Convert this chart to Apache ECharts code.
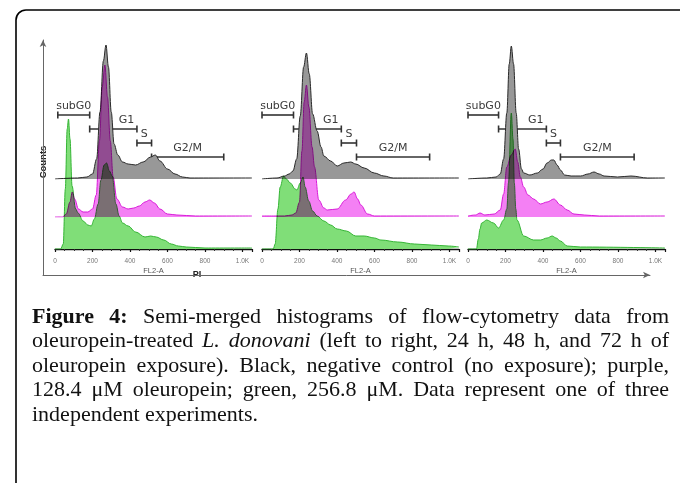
<!DOCTYPE html>
<html><head><meta charset="utf-8">
<script src="https://cdn.jsdelivr.net/npm/echarts@6/dist/echarts.min.js"></script>
<style>
html,body{margin:0;padding:0;background:#fff;}
#wrap{position:relative;width:680px;height:483px;overflow:hidden;background:#fff;isolation:isolate;}
.layer{position:absolute;left:0;top:0;width:680px;height:483px;mix-blend-mode:multiply;}
</style></head><body>
<div id="wrap"><div id="base" class="layer"></div><div id="purple" class="layer"></div><div id="green" class="layer"></div></div>
<script>
// ---------- data (FL2-A channel, relative counts) ----------
const xTicks = [0, 200, 400, 600, 800, 1000];
const timePoints = ['24 h', '48 h', '72 h'];
// black: negative control
const ctl24 = [[0,0],[120,1],[170,2],[200,5],[222,20],[240,67],[258,118],[272,134],[285,112],[300,67],[315,35],[335,24],[360,17],[390,15],[430,14],[470,17],[510,22],[535,24],[560,18],[600,10],[640,5],[680,2],[720,1],[1050,1]];
const ctl48 = [[0,0],[80,1],[120,3],[145,5],[165,8],[185,20],[204,63],[222,112],[237,126],[252,105],[270,65],[294,48],[315,32],[330,23],[366,18],[401,13],[437,16],[473,17],[500,15],[545,11],[599,6],[650,3],[700,1],[1050,1]];
const ctl72 = [[0,0],[100,1],[150,2],[172,5],[190,20],[207,66],[220,115],[231,133],[243,115],[257,66],[270,30],[285,10],[297,6],[330,4],[370,6],[400,10],[422,16],[445,19],[458,19],[475,14],[493,9],[515,4],[550,3],[601,3],[640,5],[672,7],[700,5],[726,3],[797,2],[869,3],[958,1],[1050,1]];
// purple: 128.4 uM oleuropein
const low24 = [[0,0],[40,0],[60,3],[80,15],[92,25],[105,18],[125,8],[150,5],[175,5],[200,8],[220,22],[237,76],[252,130],[266,152],[280,120],[295,76],[310,40],[330,18],[360,10],[390,8],[420,9],[450,11],[480,15],[505,17],[530,14],[560,8],[600,3],[650,2],[750,1],[1050,1]];
const low48 = [[0,1],[60,1],[120,1],[160,2],[180,4],[200,15],[213,66],[225,115],[237,132],[250,110],[267,70],[280,50],[303,17],[330,9],[348,7],[401,8],[446,17],[475,23],[491,25],[510,18],[527,12],[563,3],[600,1],[1050,1]];
const low72 = [[0,1],[40,2],[64,4],[90,2],[140,3],[172,7],[190,23],[207,50],[231,62],[252,68],[265,55],[279,40],[297,30],[320,22],[350,18],[386,13],[422,15],[458,18],[493,12],[529,7],[565,3],[620,2],[700,1],[1050,1]];
// green: 256.8 uM oleuropein
const high24 = [[0,0],[30,0],[44,5],[55,60],[65,120],[72,130],[80,110],[91,63],[110,40],[123,36],[150,28],[175,24],[193,23],[210,30],[230,45],[245,69],[262,84],[275,86],[290,78],[305,73],[325,45],[342,33],[360,26],[390,23],[430,17],[480,12],[510,13],[540,12],[580,9],[620,5],[658,3],[700,2],[800,1],[1050,1]];
const high48 = [[0,0],[60,0],[70,5],[85,40],[97,62],[115,73],[130,70],[151,66],[177,60],[186,59],[204,66],[219,72],[230,62],[249,48],[270,38],[294,33],[330,28],[366,24],[401,20],[450,18],[500,13],[545,13],[600,11],[634,9],[724,7],[814,5],[903,4],[993,3],[1050,2]];
const high72 = [[0,0],[45,0],[55,10],[64,20],[73,26],[100,29],[136,26],[163,21],[190,29],[207,40],[216,66],[231,136],[240,110],[247,66],[255,40],[261,29],[297,13],[350,9],[386,9],[422,11],[449,13],[470,11],[493,8],[529,3],[600,2],[1050,1]];
// gates
const gateNames = ['subG0', 'G1', 'S', 'G2/M'];
const gates24 = [[15,185],[185,437],[437,515],[515,900]];
const gates48 = [[0,168],[168,423],[423,504],[504,894]];
const gates72 = [[0,163],[163,418],[418,493],[493,886]];
const gateLevels = [64, 50, 36, 22];

const captionLines = [
  '*Figure 4:* Semi-merged histograms of flow-cytometry data from',
  'oleuropein-treated _L. donovani_ (left to right, 24 h, 48 h, and 72 h of',
  'oleuropein exposure). Black, negative control (no exposure); purple,',
  '128.4 \u03bcM oleuropein; green, 256.8 \u03bcM. Data represent one of three',
  'independent experiments.'
];

// ---------- layout / style ----------
const PANEL_LEFT = [55, 262, 468];
const PX_PER_UNIT = 0.1875;
const X_MAX = 1050;
const PLOT_TOP = 30;
const BASE = {ctl: 179, low: 217, high: 249};
const GATE_LABEL_AT = [0.5, 0.78, 0.5, 0.5];

function grids(baseline) {
  return PANEL_LEFT.map(l => ({left: l, top: PLOT_TOP, width: X_MAX * PX_PER_UNIT, height: baseline - PLOT_TOP}));
}
function yAxes(baseline) {
  return PANEL_LEFT.map((l, i) => ({type: 'value', gridIndex: i, min: 0, max: baseline - PLOT_TOP, show: false}));
}
function hiddenX() {
  return PANEL_LEFT.map((l, i) => ({type: 'value', gridIndex: i, min: 0, max: X_MAX, show: false}));
}
function hist(data, i, line, fill) {
  return {type: 'line', xAxisIndex: i, yAxisIndex: i, data: data, smooth: 0.35, smoothMonotone: 'x',
    symbol: 'none', silent: true, animation: false,
    lineStyle: {color: line, width: 1}, areaStyle: {color: fill, opacity: 1}};
}

function renderGate(params, api) {
  const i = api.value(3);
  const a = api.coord([api.value(0), api.value(2)]);
  const b = api.coord([api.value(1), api.value(2)]);
  const lx = a[0] + (b[0] - a[0]) * GATE_LABEL_AT[i];
  const st = {stroke: '#333', lineWidth: 1.6};
  return {type: 'group', children: [
    {type: 'line', shape: {x1: a[0], y1: a[1], x2: b[0], y2: b[1]}, style: st},
    {type: 'line', shape: {x1: a[0], y1: a[1] - 3.5, x2: a[0], y2: a[1] + 3.5}, style: st},
    {type: 'line', shape: {x1: b[0], y1: b[1] - 3.5, x2: b[0], y2: b[1] + 3.5}, style: st},
    {type: 'text', x: lx, y: a[1] - 9, style: {text: gateNames[i], font: '11px "DejaVu Sans"', fill: '#3a3a3a',
      textAlign: 'center', textVerticalAlign: 'middle', align: 'center', verticalAlign: 'middle'}}
  ]};
}
function gateSeries(g, i) {
  return {type: 'custom', xAxisIndex: i, yAxisIndex: i, clip: false, silent: true, animation: false,
    data: g.map((r, k) => [r[0], r[1], gateLevels[k], k]),
    encode: {x: [0, 1], y: 2}, renderItem: renderGate};
}

// caption, justified word by word
function captionGraphics() {
  const size = 22, left = 32, right = 669, ys = [317, 341.5, 366, 390.5, 415];
  const ctx = document.createElement('canvas').getContext('2d');
  const out = [];
  captionLines.forEach((line, li) => {
    let bold = false, ital = false, words = [], cur = null;
    for (const ch of line) {
      if (ch === '*') { bold = !bold; continue; }
      if (ch === '_') { ital = !ital; continue; }
      if (ch === ' ') { cur = null; continue; }
      if (!cur) { cur = {t: '', b: bold, i: ital}; words.push(cur); }
      cur.t += ch;
    }
    words.forEach(w => {
      w.font = (w.i ? 'italic ' : '') + (w.b ? 'bold ' : '') + size + 'px "Liberation Serif"';
      ctx.font = w.font; w.w = ctx.measureText(w.t).width;
    });
    ctx.font = size + 'px "Liberation Serif"';
    const sp = ctx.measureText(' ').width;
    const total = words.reduce((s, w) => s + w.w, 0);
    const last = li === captionLines.length - 1;
    const gap = last ? sp : (right - left - total) / (words.length - 1);
    let x = left;
    words.forEach(w => {
      out.push({type: 'text', x: x, y: ys[li], silent: true,
        style: {text: w.t, font: w.font, fill: '#111', textVerticalAlign: 'middle', verticalAlign: 'middle'}});
      x += w.w + gap;
    });
  });
  return out;
}

const labelFmt = v => v >= 1000 ? (v / 1000).toFixed(1) + 'K' : String(v);

// ---------- base layer: control histograms, gates, frame, outer axes, caption ----------
const base = echarts.init(document.getElementById('base'));
const ctlData = [ctl24, ctl48, ctl72];
const gateData = [gates24, gates48, gates72];
base.setOption({
  animation: false,
  grid: grids(BASE.ctl).concat([{left: 43, top: 40, width: 607, height: 235}]),
  xAxis: hiddenX().concat([{type: 'value', gridIndex: 3, min: 0, max: 1, splitLine: {show: false},
    axisTick: {show: false}, axisLabel: {show: false},
    axisLine: {show: true, symbol: ['none', 'arrow'], symbolSize: [5, 7], lineStyle: {color: '#666', width: 1}}}]),
  yAxis: yAxes(BASE.ctl).concat([{type: 'value', gridIndex: 3, min: 0, max: 1, splitLine: {show: false},
    axisTick: {show: false}, axisLabel: {show: false},
    axisLine: {show: true, symbol: ['none', 'arrow'], symbolSize: [5, 7], lineStyle: {color: '#666', width: 1}}}]),
  series: ctlData.map((d, i) => hist(d, i, '#2a2a2a', 'rgb(152,152,152)'))
    .concat(gateData.map((g, i) => gateSeries(g, i))),
  graphic: [
    {type: 'rect', silent: true, shape: {x: 16, y: 10, width: 720, height: 520, r: 10},
      style: {fill: null, stroke: '#000', lineWidth: 1.6}},
    {type: 'text', x: 43, y: 162, rotation: Math.PI / 2, silent: true,
      style: {text: 'Counts', font: 'bold 9.5px "Liberation Sans Narrow", "Liberation Sans"', fill: '#222',
        align: 'center', verticalAlign: 'middle', textAlign: 'center', textVerticalAlign: 'middle',
        backgroundColor: '#fff', padding: [1, 2]}},
    {type: 'text', x: 197, y: 275, silent: true,
      style: {text: 'PI', font: 'bold 9px "Liberation Sans"', fill: '#222',
        align: 'center', verticalAlign: 'middle', textAlign: 'center', textVerticalAlign: 'middle',
        backgroundColor: '#fff', padding: [1, 6]}}
  ].concat(captionGraphics())
});

// ---------- purple layer ----------
const purple = echarts.init(document.getElementById('purple'));
purple.setOption({
  animation: false,
  grid: grids(BASE.low), xAxis: hiddenX(), yAxis: yAxes(BASE.low),
  series: [low24, low48, low72].map((d, i) => hist(d, i, '#d81bd8', 'rgb(244,128,244)'))
});

// ---------- green layer with the FL2-A axes ----------
const green = echarts.init(document.getElementById('green'));
green.setOption({
  animation: false,
  grid: grids(BASE.high),
  xAxis: PANEL_LEFT.map((l, i) => ({type: 'value', gridIndex: i, min: 0, max: X_MAX, interval: xTicks[1] - xTicks[0],
    name: 'FL2-A', nameLocation: 'middle', nameGap: 18,
    nameTextStyle: {fontSize: 7.5, color: '#555', fontFamily: 'Liberation Sans'},
    splitLine: {show: false},
    axisLine: {show: true, lineStyle: {color: '#111', width: 1.3}},
    axisTick: {show: true, length: 3, lineStyle: {color: '#111', width: 1.2}},
    minorTick: {show: true, splitNumber: 4, length: 2, lineStyle: {color: '#333', width: 1}},
    axisLabel: {fontSize: 6.5, color: '#777', margin: 9, fontFamily: 'Liberation Sans', showMaxLabel: false,
      formatter: labelFmt}})),
  yAxis: yAxes(BASE.high),
  series: [high24, high48, high72].map((d, i) => hist(d, i, '#35b535', 'rgb(128,222,120)'))
});
</script>
</body></html>
